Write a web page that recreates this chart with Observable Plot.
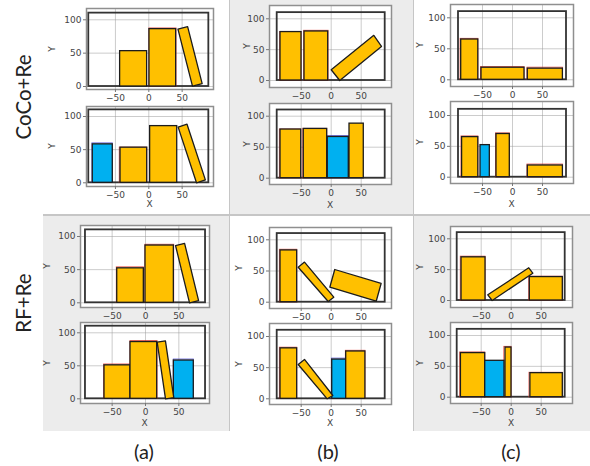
<!DOCTYPE html>
<html><head><meta charset="utf-8">
<script src="https://cdn.jsdelivr.net/npm/d3@7"></script>
<script src="https://cdn.jsdelivr.net/npm/@observablehq/plot@0.6"></script>
<style>
body{margin:0;background:#fff;}
#fig{position:relative;width:590px;height:466px;overflow:hidden;background:#fff;}
.cell{position:absolute;background:#ececec;}
.ln{position:absolute;background:#c6c6c6;}
.panel{position:absolute;}
.ax{position:absolute;font:9px "DejaVu Sans",sans-serif;color:#444;transform:translate(-50%,-50%);white-space:nowrap;}
.row{position:absolute;font:20.5px Lato,"Open Sans",sans-serif;color:#222;transform:translate(-50%,-50%) rotate(-90deg);white-space:nowrap;}
.col{position:absolute;font:20px Lato,"Open Sans",sans-serif;color:#222;transform:translate(-50%,-50%);white-space:nowrap;}
</style>
</head><body><div id="fig"></div>
<script>
// ---- data ----
const xTicks = [-50, 0, 50];
const yTicks = [0, 50, 100];
const rowLabels = ["CoCo+Re", "RF+Re"];
const colLabels = ["(a)", "(b)", "(c)"];
const panelIds = ["A1","A2","B1","B2","C1","C2","A3","A4","B3","B4","C3","C4"];
const containerBox = [{x1: -90, x2: 90, y1: 0, y2: 110}];
// upright boxes: [panel, x1, x2, top, kind]
const uprightBoxes = [
  ["A1",-43,-2.5,53,"o"],["A1",1,41,86,"o"],
  ["A2",-84,-54,58,"b"],["A2",-42.4,-2.4,53,"o"],["A2",2,42.6,85.5,"o"],
  ["B1",-84.5,-49.5,78.5,"o"],["B1",-44.5,-5,79.5,"o"],
  ["B2",-84.5,-50,78.5,"o"],["B2",-45.7,-6.7,79.5,"o"],["B2",-5.7,29.3,66.5,"b"],["B2",30.5,54.3,88,"o"],
  ["C1",-85.5,-57,65,"o"],["C1",-51.7,20,19.5,"o"],["C1",25.5,84,18,"o"],
  ["C2",-84,-57,65,"o"],["C2",-53.3,-37.8,52,"b"],["C2",-26.7,-4.5,70,"o"],["C2",25.5,84,19,"o"],
  ["A3",-42.4,-2.5,52,"o"],["A3",0,42.5,86.4,"o"],
  ["A4",-61.5,-22.5,50.7,"o"],["A4",-22.5,17.5,86,"o"],["A4",42.5,72.4,58,"b"],
  ["B3",-84.5,-56.7,83,"o"],
  ["B4",-84.5,-56.7,81,"o"],["B4",1.7,25,63,"b"],["B4",25,57,76,"o"],
  ["C3",-82.8,-42.8,70,"o"],["C3",31,86,38,"o"],
  ["C4",-83.8,-43.3,71.5,"o"],["C4",-43.3,-11.2,59,"b"],["C4",-9.5,0.5,80.5,"o"],["C4",32,86,39,"o"]
];
// tilted boxes: [panel, corners]
const tiltedBoxes = [
  ["A1",[[65.5,0.5],[43.7,86],[58.2,89.7],[80,4.2]]],
  ["A2",[[71.5,0],[44,84],[57.3,88.4],[84.8,4.4]]],
  ["A3",[[66,0],[45,86.4],[58.6,89.7],[79.6,3.3]]],
  ["A4",[[30,0],[17.5,86],[29.9,87.8],[42.4,1.8]]],
  ["B1",[[14.3,0],[0,17.4],[71,73.2],[83.8,55.3]]],
  ["B3",[[-5,1.1],[-55,56],[-44.5,64.3],[4.3,8]]],
  ["B3",[[-2.3,24],[75,1.6],[83.2,30],[5.9,52.4]]],
  ["B4",[[-6.7,0],[-55,55],[-44.5,63.2],[2.7,5.3]]],
  ["C3",[[-31.7,0],[-39,9.2],[29.3,53],[36,44.2]]]
];
// ground-truth outlines: [panel, x1, x2, top, kind]
const groundTruth = [
  ["A1",1,41.5,87,"r"],
  ["A2",-84.5,-54,59.5,"bl"],["A2",-43.5,-2.4,53,"r"],
  ["B1",-45,-4.5,80.5,"r"],["B1",-85,-49.5,78.5,"r"],
  ["B2",-85.5,-50,78.5,"r"],["B2",-46.5,-6.7,79.5,"r"],["B2",-5.7,29.3,68,"bl"],
  ["C1",-86.5,-57,66,"r"],["C1",-52.5,20,20.5,"r"],["C1",25,84,19.5,"r"],
  ["C2",-85,-57,66,"r"],["C2",-27.5,-4.5,71,"r"],["C2",25,84,20.5,"r"],
  ["A3",-43,-2.5,53.5,"r"],["A3",0,43,87.5,"r"],
  ["A4",-62,-22.5,52,"r"],["A4",-22.5,18,87.5,"r"],["A4",42.5,72.4,59.5,"bl"],
  ["B3",-85.5,-56.7,84,"r"],
  ["B4",-85.5,-56.7,82,"r"],["B4",24.5,57,77,"r"],["B4",1.2,25,64.5,"bl"],
  ["C3",-84,-42.8,71,"r"],["C3",30,86,38.5,"r"],
  ["C4",-85,-43.3,72.5,"r"],["C4",-11.5,0.5,81.5,"r"],["C4",30.5,86,39.5,"r"]
];
const colors = {o: "#FFC000", b: "#00B0F0", r: "#e5332a", bl: "#4a4ad8"};

// ---- layout (pixels) ----
const G = {
 A1:{l:86,r:213,t:8,b:89,x0:148.3,y0:86,sx:0.667,sy:0.667,yl:52},
 A2:{l:86,r:213,t:106,b:186,x0:148.3,y0:182.3,sx:0.667,sy:0.663,yl:52,xl:204},
 B1:{l:269,r:391,t:5,b:87,x0:330.7,y0:80,sx:0.6,sy:0.617,yl:246.5},
 B2:{l:269,r:391,t:103,b:184,x0:330.7,y0:177.7,sx:0.6,sy:0.62,yl:246.5,xl:205},
 C1:{l:450,r:573,t:4,b:86,x0:512,y0:79.3,sx:0.6,sy:0.62,yl:420},
 C2:{l:450,r:573,t:101,b:183,x0:512,y0:176.7,sx:0.6,sy:0.617,yl:420,xl:204},
 A3:{l:80,r:209,t:225,b:307,x0:145,y0:302.3,sx:0.667,sy:0.663,yl:47},
 A4:{l:80,r:209,t:322,b:403,x0:145,y0:398.3,sx:0.667,sy:0.66,yl:47,xl:423},
 B3:{l:269,r:391,t:227,b:308,x0:330.7,y0:301.7,sx:0.6,sy:0.624,yl:238.5},
 B4:{l:269,r:391,t:323,b:404,x0:330.7,y0:398.3,sx:0.6,sy:0.623,yl:238.5,xl:423},
 C3:{l:450,r:572,t:226,b:307,x0:510.7,y0:300,sx:0.6,sy:0.617,yl:420},
 C4:{l:450,r:572,t:322,b:403,x0:510.7,y0:396.7,sx:0.6,sy:0.617,yl:420,xl:423}
};

const fig = document.getElementById("fig");
function div(cls, css, text) {
  const d = document.createElement("div");
  d.className = cls;
  Object.assign(d.style, css);
  if (text != null) d.textContent = text;
  fig.appendChild(d);
  return d;
}
// cell backgrounds and separators
div("cell", {left:"229px", top:"0px", width:"184px", height:"215px"});
div("cell", {left:"43px", top:"215px", width:"186px", height:"216px"});
div("cell", {left:"413px", top:"215px", width:"177px", height:"216px"});
div("ln", {left:"228.5px", top:"0px", width:"1.5px", height:"431px"});
div("ln", {left:"412.5px", top:"0px", width:"1.5px", height:"431px"});
div("ln", {left:"43px", top:"214px", width:"547px", height:"1.5px"});

const fmt = d => d < 0 ? "\u2212" + Math.abs(d) : String(d);

for (const id of panelIds) {
  const g = G[id];
  const ML = 36, MR = 4, MT = 4, MB = 18;
  const W = g.r - g.l, H = g.b - g.t;
  const xd = [(g.l - g.x0) / g.sx, (g.r - g.x0) / g.sx];
  const yd = [(g.y0 - g.b) / g.sy, (g.y0 - g.t) / g.sy];
  const ups = uprightBoxes.filter(d => d[0] === id).map(d => ({x1: d[1], x2: d[2], y1: 0, y2: d[3], c: colors[d[4]]}));
  const gts = groundTruth.filter(d => d[0] === id).map(d => ({x1: d[1], x2: d[2], y1: 0, y2: d[3], c: colors[d[4]]}));
  const tilts = tiltedBoxes.map((d, i) => [d, i]).filter(([d]) => d[0] === id)
    .flatMap(([d, i]) => d[1].map(p => ({k: i, x: p[0], y: p[1]})));
  const svg = Plot.plot({
    width: W + ML + MR, height: H + MT + MB,
    marginLeft: ML, marginRight: MR, marginTop: MT, marginBottom: MB,
    x: {domain: xd},
    y: {domain: yd},
    color: {type: "identity"},
    style: {background: "transparent", fontSize: "9px", color: "#444", fontFamily: "DejaVu Sans, sans-serif", overflow: "visible"},
    marks: [
      Plot.frame({fill: "white", stroke: "none"}),
      Plot.gridX(xTicks, {stroke: "#9a9a9a", strokeOpacity: 0.5, strokeWidth: 1}),
      Plot.gridY(yTicks, {stroke: "#9a9a9a", strokeOpacity: 0.5, strokeWidth: 1}),
      Plot.rect(containerBox, {x1: "x1", x2: "x2", y1: "y1", y2: "y2", fill: "none", stroke: "#333", strokeWidth: 1.8}),
      Plot.rect(gts, {x1: "x1", x2: "x2", y1: "y1", y2: "y2", fill: "none", stroke: "c", strokeWidth: 1, strokeOpacity: 0.75}),
      Plot.rect(ups, {x1: "x1", x2: "x2", y1: "y1", y2: "y2", fill: "c", stroke: "#1c1c1c", strokeWidth: 1.3}),
      Plot.line(tilts, {x: "x", y: "y", z: "k", curve: "linear-closed", fill: "#FFC000", stroke: "#1c1c1c", strokeWidth: 1.3}),
      Plot.frame({stroke: "#8f8f8f", strokeWidth: 1.5}),
      Plot.axisX(xTicks, {tickSize: 3, tickPadding: 2, tickFormat: fmt, label: null, stroke: "#777"}),
      Plot.axisY(yTicks, {tickSize: 3, tickPadding: 2, tickFormat: fmt, label: null, stroke: "#777"})
    ]
  });
  const holder = div("panel", {left: (g.l - ML) + "px", top: (g.t - MT) + "px"});
  holder.appendChild(svg);
  // axis titles
  div("ax", {left: g.yl + "px", top: ((g.t + g.b) / 2) + "px", transform: "translate(-50%,-50%) rotate(-90deg)"}, "Y");
  if (g.xl) div("ax", {left: ((g.l + g.r) / 2) + "px", top: g.xl + "px"}, "X");
}
// row & column labels
div("row", {left: "23px", top: "97px"}, rowLabels[0]);
div("row", {left: "23px", top: "303px"}, rowLabels[1]);
div("col", {left: "144px", top: "451px"}, colLabels[0]);
div("col", {left: "328px", top: "451px"}, colLabels[1]);
div("col", {left: "511px", top: "451px"}, colLabels[2]);
</script>
</body></html>
